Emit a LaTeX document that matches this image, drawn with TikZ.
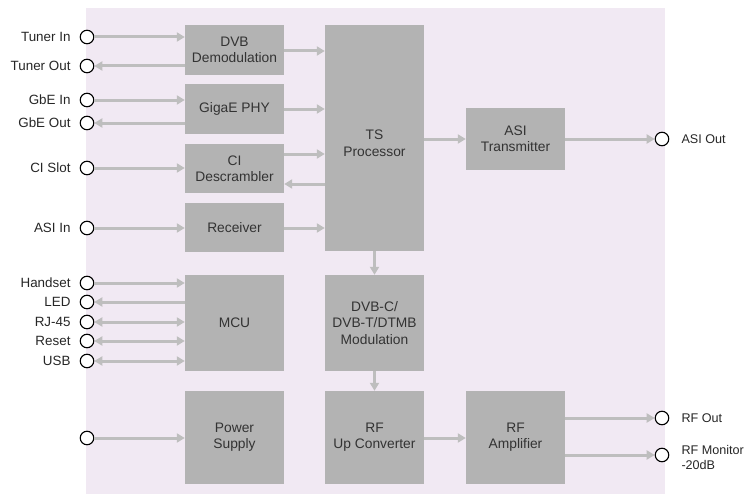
\documentclass[tikz,border=0pt]{standalone}
\usepackage{fontspec}
\setmainfont{Liberation Sans}
\usetikzlibrary{arrows.meta}
\definecolor{bgc}{HTML}{F1E9F3}
\definecolor{boxc}{HTML}{B3B3B3}
\definecolor{arrc}{HTML}{BEBEBE}
\definecolor{txtc}{HTML}{333333}
\begin{document}
\begin{tikzpicture}[x=1pt,y=-1pt,
  blk/.style={fill=boxc,draw=none,text=txtc,align=center,inner sep=0pt,minimum width=99pt,font=\fontsize{13.8}{16.2}\selectfont},
  port/.style={circle,draw=black,fill=white,line width=1.1pt,minimum size=13.5pt,inner sep=0pt},
  lab/.style={text=black!85,inner sep=0pt,font=\fontsize{13.4}{16}\selectfont},
  rlab/.style={lab,font=\fontsize{12.6}{15}\selectfont},
  arr/.style={draw=arrc,line width=3pt,-{Triangle[length=8pt,width=9pt]}},
  barr/.style={draw=arrc,line width=3pt,{Triangle[length=8pt,width=9pt]}-{Triangle[length=8pt,width=9pt]}}]
\useasboundingbox (0,0) rectangle (747,495);
\fill[bgc] (86,8) rectangle (665,494);
% blocks
\node[blk,minimum height=50pt] (dvb) at (234.5,50) {DVB\\Demodulation};
\node[blk,minimum height=50pt] (giga) at (234.5,109) {GigaE PHY};
\node[blk,minimum height=49pt] (ci) at (234.5,168.5) {CI\\Descrambler};
\node[blk,minimum height=49pt] (rx) at (234.5,227.5) {Receiver};
\node[blk,minimum height=226pt] (ts) at (374.5,138) {\rule{0pt}{20pt}TS\\Processor};
\node[blk,minimum height=62pt] (asitx) at (515.5,139) {ASI\\Transmitter};
\node[blk,minimum height=96pt] (mcu) at (234.5,323) {MCU};
\node[blk,minimum height=96pt] (mod) at (374.5,323) {DVB-C/\\DVB-T/DTMB\\Modulation};
\node[blk,minimum height=93pt] (ps) at (234.5,437.5) {Power\\Supply};
\node[blk,minimum height=93pt] (up) at (374.5,437.5) {RF\\Up Converter};
\node[blk,minimum height=93pt] (amp) at (515.5,437.5) {RF\\Amplifier};
% left ports
\node[port] (ptin) at (87,37) {};
\node[port] (ptout) at (87,66) {};
\node[port] (pgin) at (87,100) {};
\node[port] (pgout) at (87,123) {};
\node[port] (pci) at (87,168) {};
\node[port] (pasi) at (87,228) {};
\node[port] (phs) at (87,283) {};
\node[port] (pled) at (87,302) {};
\node[port] (prj) at (87,322) {};
\node[port] (prst) at (87,341) {};
\node[port] (pusb) at (87,361) {};
\node[port] (ppwr) at (87,438) {};
% right ports
\node[port] (pasiout) at (662,139) {};
\node[port] (prfout) at (662,418) {};
\node[port] (prfmon) at (662,455) {};
% labels
\node[lab,anchor=east] (ltin) at ([xshift=-9pt]ptin.west) {Tuner In};
\node[lab,anchor=east] (ltout) at ([xshift=-9pt]ptout.west) {Tuner Out};
\node[lab,anchor=east] (lgin) at ([xshift=-9pt]pgin.west) {GbE In};
\node[lab,anchor=east] (lgout) at ([xshift=-9pt]pgout.west) {GbE Out};
\node[lab,anchor=east] (lci) at ([xshift=-9pt]pci.west) {CI Slot};
\node[lab,anchor=east] (lasi) at ([xshift=-9pt]pasi.west) {ASI In};
\node[lab,anchor=east] (lhs) at ([xshift=-9pt]phs.west) {Handset};
\node[lab,anchor=east] (lled) at ([xshift=-9pt]pled.west) {LED};
\node[lab,anchor=east] (lrj) at ([xshift=-9pt]prj.west) {RJ-45};
\node[lab,anchor=east] (lrst) at ([xshift=-9pt]prst.west) {Reset};
\node[lab,anchor=east] (lusb) at ([xshift=-9pt]pusb.west) {USB};
\node[rlab,anchor=west] (lasiout) at ([xshift=12pt]pasiout.east) {ASI Out};
\node[rlab,anchor=west] (lrfout) at ([xshift=12pt]prfout.east) {RF Out};
\node[rlab,anchor=west,align=left] (lrfmon) at ([xshift=12pt,yshift=-2pt]prfmon.east) {RF Monitor\\-20dB};
% left connectors
\draw[arr] (ptin.east) -- (ptin -| dvb.west);
\draw[arr] (ptout -| dvb.west) -- (ptout.east);
\draw[arr] (pgin.east) -- (pgin -| giga.west);
\draw[arr] (pgout -| giga.west) -- (pgout.east);
\draw[arr] (pci.east) -- (pci -| ci.west);
\draw[arr] (pasi.east) -- (pasi -| rx.west);
\draw[arr] (phs.east) -- (phs -| mcu.west);
\draw[arr] (pled -| mcu.west) -- (pled.east);
\draw[barr] (prj.east) -- (prj -| mcu.west);
\draw[barr] (prst.east) -- (prst -| mcu.west);
\draw[barr] (pusb.east) -- (pusb -| mcu.west);
\draw[arr] (ppwr.east) -- (ppwr -| ps.west);
% internal
\draw[arr] (dvb.east |- 0,51) -- (ts.west |- 0,51);
\draw[arr] (giga.east |- 0,109) -- (ts.west |- 0,109);
\draw[arr] (ci.east |- 0,154) -- (ts.west |- 0,154);
\draw[arr] (ts.west |- 0,184) -- (ci.east |- 0,184);
\draw[arr] (rx.east |- 0,228) -- (ts.west |- 0,228);
\draw[arr] (ts.east |- asitx.west) -- (asitx.west);
\draw[arr] (asitx.east |- pasiout) -- (pasiout.west);
\draw[arr] (ts.south) -- (mod.north);
\draw[arr] (mod.south) -- (up.north);
\draw[arr] (up.east |- 0,438) -- (amp.west |- 0,438);
\draw[arr] (amp.east |- prfout) -- (prfout.west);
\draw[arr] (amp.east |- prfmon) -- (prfmon.west);
\end{tikzpicture}
\end{document}
